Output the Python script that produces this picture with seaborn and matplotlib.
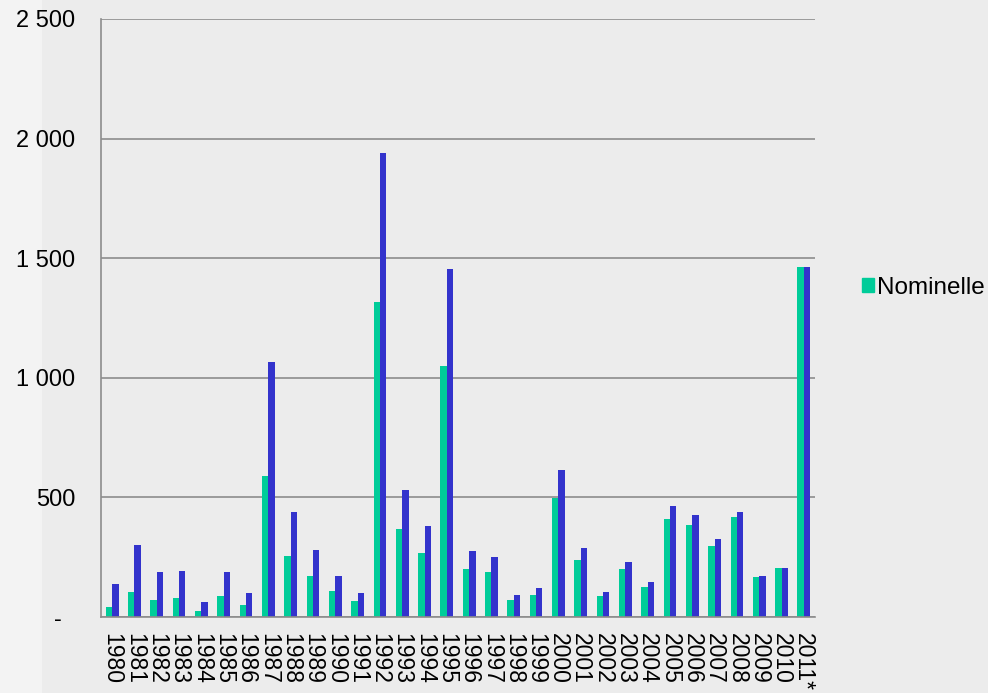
import pandas as pd
import numpy as np
import matplotlib
matplotlib.use("Agg")
import matplotlib.pyplot as plt
import seaborn as sns

years = ['1980', '1981', '1982', '1983', '1984', '1985', '1986', '1987', '1988', '1989',
         '1990', '1991', '1992', '1993', '1994', '1995', '1996', '1997', '1998', '1999',
         '2000', '2001', '2002', '2003', '2004', '2005', '2006', '2007', '2008', '2009',
         '2010', '2011*']
nominelle = [40, 103, 70, 78, 25, 87, 49, 589, 257, 170,
             108, 67, 1317, 367, 268, 1050, 201, 187, 70, 94,
             498, 240, 88, 200, 126, 408, 384, 296, 416, 166,
             204, 1463]
reelle = [140, 303, 187, 191, 62, 187, 101, 1068, 437, 279,
          170, 101, 1938, 529, 380, 1455, 275, 250, 94, 120,
          614, 289, 105, 232, 145, 462, 426, 325, 441, 173,
          206, 1463]
series_names = ['Nominelle', 'Réelle']
colors = ['#00CC99', '#3333CC']
ytick_vals = [0, 500, 1000, 1500, 2000, 2500]
ytick_labels = ['-  ', '500', '1 000', '1 500', '2 000', '2 500']

df = pd.DataFrame({
    'annee': years * 2,
    'valeur': nominelle + reelle,
    'serie': [series_names[0]] * len(years) + [series_names[1]] * len(years),
})

sns.set_style('white')
plt.rcParams['font.family'] = ['Liberation Sans', 'DejaVu Sans']
plt.rcParams['text.color'] = 'black'
plt.rcParams['xtick.labelcolor'] = 'black'
plt.rcParams['ytick.labelcolor'] = 'black'

fig = plt.figure(figsize=(9.88, 6.93), dpi=100)
fig.patch.set_facecolor('#ececec')
# lighter strip at the far left of the background
fig.patches.append(plt.Rectangle((0, 0), 42 / 988, 1, transform=fig.transFigure,
                                 facecolor='#f3f3f3', edgecolor='none', zorder=-1))
ax = fig.add_axes([101 / 988, 1 - 617 / 693, 714 / 988, 598 / 693])
ax.patch.set_alpha(0)

sns.barplot(data=df, x='annee', y='valeur', hue='serie', palette=colors,
            width=0.57, ax=ax, legend=False, saturation=1, linewidth=0)

ax.set_xlim(-0.5, len(years) - 0.5)
ax.set_ylim(0, 2500)
ax.set_yticks(ytick_vals)
ax.set_yticklabels(ytick_labels, fontsize=17, color='black')
ax.yaxis.grid(True, color='#8c8c8c', linewidth=1.2)
ax.set_axisbelow(True)

ax.set_xticks(range(len(years)))
ax.set_xticklabels(years, rotation=270, fontsize=16.5, va='top', ha='center', color='black')
ax.tick_params(axis='x', which='major', length=0, pad=11.5)
ax.set_xticks(np.arange(-0.5, len(years), 1), minor=True)
ax.tick_params(axis='x', which='minor', length=4.3, color='#8c8c8c', width=1.2)
ax.tick_params(axis='y', length=4.3, color='#8c8c8c', width=1.2, pad=14.4)
ax.set_xlabel('')
ax.set_ylabel('')

for side in ['top', 'right']:
    ax.spines[side].set_visible(False)
for side in ['left', 'bottom']:
    ax.spines[side].set_color('#8c8c8c')
    ax.spines[side].set_linewidth(1.2)

handle = plt.Rectangle((0, 0), 1, 1, color=colors[0])
leg = fig.legend([handle], [series_names[0]], loc='center left',
                 bbox_to_anchor=(0.872, 1 - 288 / 693), frameon=False, borderaxespad=0,
                 borderpad=0, fontsize=17.5, handlelength=0.5, handleheight=0.5,
                 handletextpad=0.12)
for t in leg.get_texts():
    t.set_color('black')

fig.savefig('out.png', dpi=100, facecolor=fig.get_facecolor())
